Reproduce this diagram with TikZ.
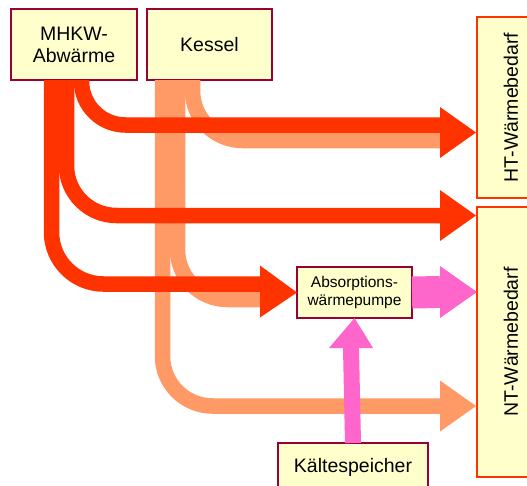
\documentclass[tikz,border=0pt]{standalone}
\usepackage{fontspec}
\setmainfont{Liberation Sans}
\begin{document}
\begin{tikzpicture}[x=1pt,y=-1pt,
  box/.style={draw=boxline,line width=1.6pt,fill=boxfill,inner sep=0pt,outer sep=0pt,
    align=center,font=\fontsize{19.5}{22}\selectfont},
  sink/.style={box,draw=flowred,rotate=90},
  redflow/.style={draw=flowred,line width=15.5pt,line cap=butt,rounded corners=#1},
  orangeflow/.style={draw=floworange,line width=15.5pt,line cap=butt,rounded corners=#1},
  head/.style={fill=#1,draw=none}]
\definecolor{flowred}{HTML}{FF3300}
\definecolor{floworange}{HTML}{FF9966}
\definecolor{flowpink}{HTML}{FF66CC}
\definecolor{boxfill}{HTML}{FFFFCC}
\definecolor{boxline}{HTML}{990033}
\useasboundingbox (0,0) rectangle (527,485);

% sources and sinks
\node[box,minimum width=126pt,minimum height=71pt] (mhkw) at (74,44.5) {MHKW-\\Abwärme};
\node[box,minimum width=125pt,minimum height=71pt] (kessel) at (209.5,44.5) {Kessel};
\node[box,minimum width=115pt,minimum height=51pt,font=\fontsize{15.5}{17.5}\selectfont]
  (awp) at (354.5,292.5) {Absorptions-\\wärmepumpe};
\node[box,minimum width=150pt,minimum height=48pt] (ks) at (353,467) {Kältespeicher};

% connector ends
\coordinate (r1) at ([xshift=70.5pt]mhkw.south west);
\coordinate (r2) at ([xshift=55.5pt]mhkw.south west);
\coordinate (r3) at ([xshift=40.5pt]mhkw.south west);
\coordinate (o1) at ([xshift=45.5pt]kessel.south west);
\coordinate (o2) at ([xshift=30.5pt]kessel.south west);
\coordinate (o3) at ([xshift=15.5pt]kessel.south west);
\coordinate (t1) at (476,132.5);
\coordinate (t2) at (476,215.5);
\coordinate (t4) at (476,406);
\coordinate (t5) at (477,292);

% boiler flows
\draw[orangeflow=50] (o1) |- (440,140.5);
\draw[orangeflow=50] (o2) |- (260,299.5);
\draw[orangeflow=50] (o3) |- (440,406);
% waste heat flows
\draw[redflow=44] (r1) |- (440,125);
\draw[redflow=50] (r2) |- (440,215.5);
\draw[redflow=52] (r3) |- (260,284);

% arrow heads
\fill[flowred] (440,107) -- (t1) -- (440,158) -- cycle;
\fill[flowred] (440,190) -- (t2) -- (440,241) -- cycle;
\fill[flowred] (260,265.5) -- (awp.west) -- (260,317.5) -- cycle;
\fill[floworange] (440,380.5) -- (t4) -- (440,431.5) -- cycle;

% heat pump flows
\draw[flowpink,line width=32pt] (awp.east) -- (440,292);
\fill[flowpink] (440,266) -- (t5) -- (440,318) -- cycle;
\draw[flowpink,line width=16pt] (ks.north) -- (351,348);
\fill[flowpink] (329,348) -- (awp.south) -- (373,348) -- cycle;

% demand boxes
\node[sink,minimum width=181pt,minimum height=68pt] (ht) at (511,107.5) {HT-Wärmebedarf};
\node[sink,minimum width=270pt,minimum height=68pt] (nt) at (511,342) {NT-Wärmebedarf};
\end{tikzpicture}
\end{document}
